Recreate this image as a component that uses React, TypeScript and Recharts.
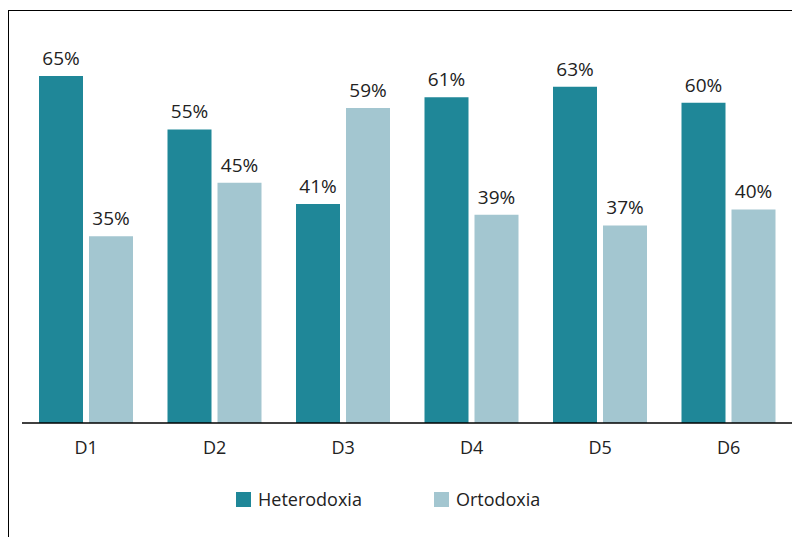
import React from 'react';
import { BarChart, Bar, XAxis, YAxis, Legend, LabelList } from 'recharts';

const categories = ['D1', 'D2', 'D3', 'D4', 'D5', 'D6'];
const heterodoxia = [65, 55, 41, 61, 63, 60];
const ortodoxia = [35, 45, 59, 39, 37, 40];

const DARK = '#1f8798';
const LIGHT = '#a3c6d0';
const TEXT = '#222222';
const FONT = '"Open Sans", "Noto Sans", sans-serif';

const data = categories.map((name, i) => ({
  name,
  Heterodoxia: heterodoxia[i],
  Ortodoxia: ortodoxia[i],
}));

const pct = (v: any) => `${v}%`;

const renderLegend = () => (
  <div style={{ display: 'flex', height: 24, alignItems: 'center', paddingLeft: 214, fontFamily: FONT, fontSize: 18, color: TEXT }}>
    <span style={{ display: 'inline-block', width: 15, height: 15, background: DARK, marginRight: 7 }} />
    <span style={{ marginRight: 72 }}>Heterodoxia</span>
    <span style={{ display: 'inline-block', width: 15, height: 15, background: LIGHT, marginRight: 7 }} />
    <span>Ortodoxia</span>
  </div>
);

export default function App() {
  return (
    <div
      style={{
        marginTop: 2,
        width: 792,
        height: 527,
        borderLeft: '1px solid #000',
        borderTop: '1px solid #000',
        boxSizing: 'border-box',
        fontFamily: FONT,
      }}
    >
      <BarChart
        width={791}
        height={526}
        data={data}
        margin={{ top: 65, right: 7, left: 13, bottom: 26 }}
        barGap={6}
      >
        <XAxis
          dataKey="name"
          axisLine={{ stroke: '#000', strokeWidth: 1.5 }}
          tickLine={false}
          tick={{ fill: TEXT, fontSize: 18, fontFamily: FONT }}
          tickMargin={12}
          height={64}
        />
        <YAxis hide domain={[0, 65]} />
        <Legend verticalAlign="bottom" align="left" content={renderLegend} />
        <Bar dataKey="Heterodoxia" fill={DARK} barSize={44} isAnimationActive={false}>
          <LabelList dataKey="Heterodoxia" position="top" offset={11} formatter={pct} fill={TEXT} fontSize={19} fontFamily={FONT} />
        </Bar>
        <Bar dataKey="Ortodoxia" fill={LIGHT} barSize={44} isAnimationActive={false}>
          <LabelList dataKey="Ortodoxia" position="top" offset={11} formatter={pct} fill={TEXT} fontSize={19} fontFamily={FONT} />
        </Bar>
      </BarChart>
    </div>
  );
}
